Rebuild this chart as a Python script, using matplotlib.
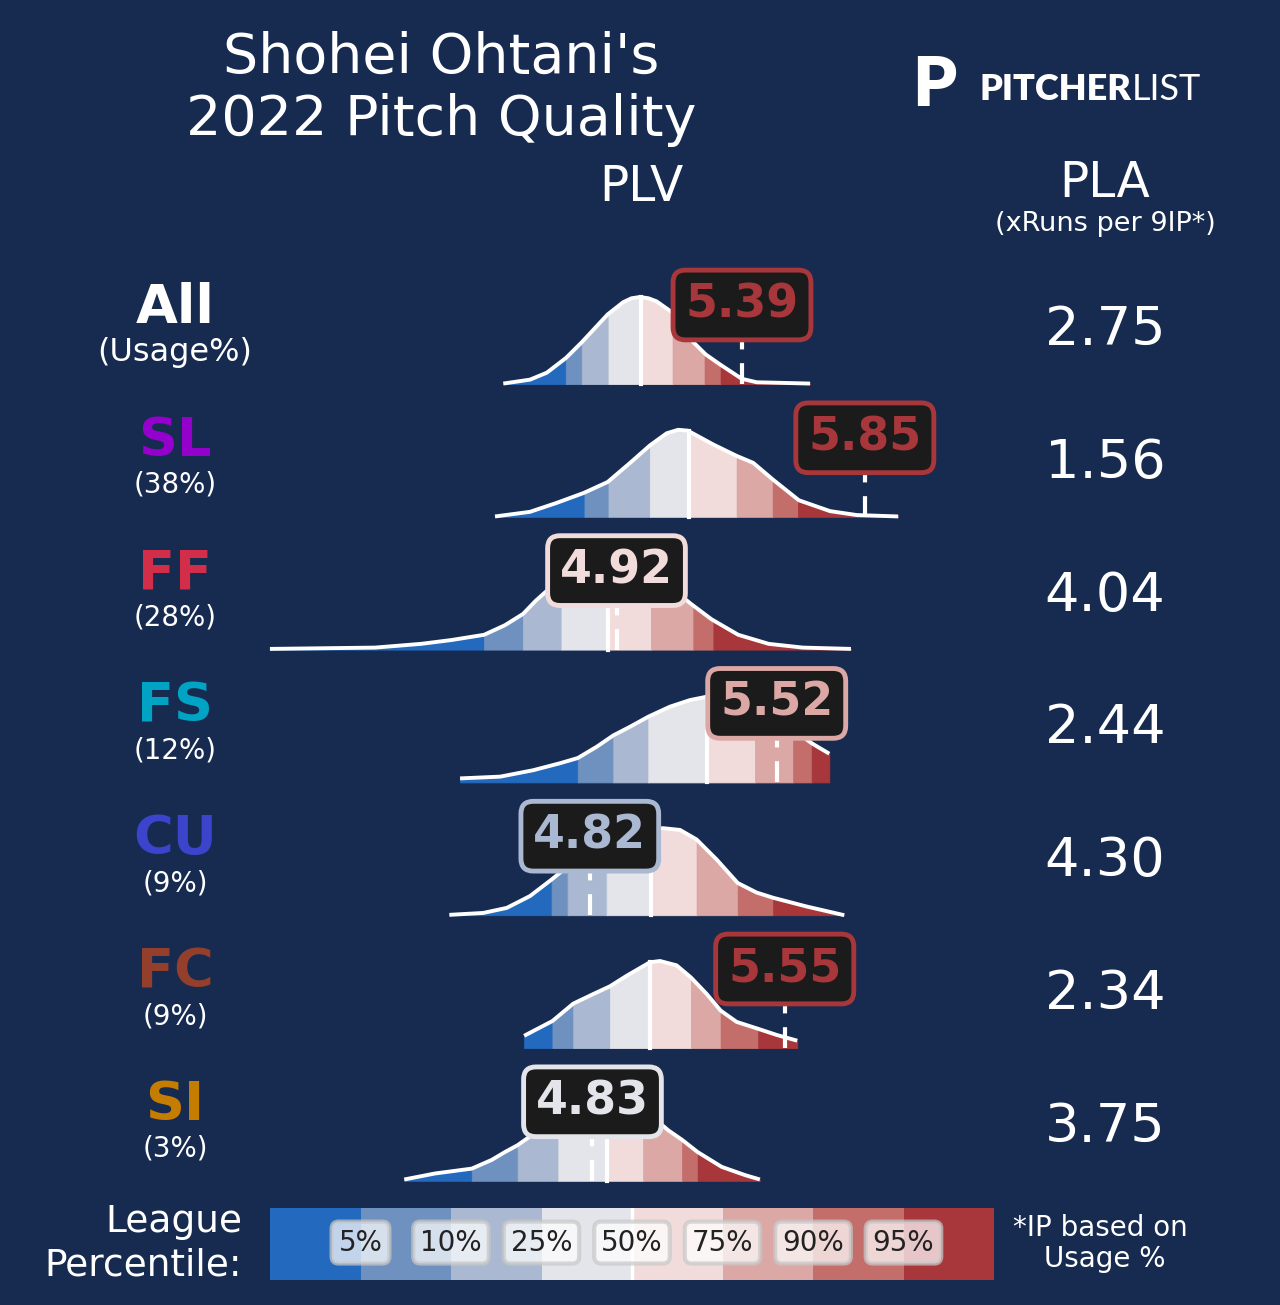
import numpy as np
import matplotlib.pyplot as plt

bg = '#172a4f'
band_colors = ['#2369bd', '#6e91c0', '#aab9d1', '#e4e5ea',
               '#f2dcdb', '#dba8a5', '#c46e6b', '#a8373b']
pct_labels = ['5%', '10%', '25%', '50%', '75%', '90%', '95%']

pitches = ['All', 'SL', 'FF', 'FS', 'CU', 'FC', 'SI']
pitch_colors = ['white', '#9400cc', '#d22d49', '#00a3c4', '#3d44cc', '#933f2c', '#c47d00']
usage = ['(Usage%)', '(38%)', '(28%)', '(12%)', '(9%)', '(9%)', '(3%)']
plv = [5.39, 5.85, 4.92, 5.52, 4.82, 5.55, 4.83]
pla = [2.75, 1.56, 4.04, 2.44, 4.30, 2.34, 3.75]

# league percentile cut points (5, 10, 25, 50, 75, 90, 95)
pct_all = [4.73, 4.79, 4.89, 5.01, 5.13, 5.25, 5.31]
pct_sl = [4.80, 4.89, 5.045, 5.19, 5.37, 5.505, 5.60]
pct_ff = [4.424, 4.57, 4.714, 4.889, 5.049, 5.208, 5.283]
pct_fs = [4.775, 4.908, 5.039, 5.258, 5.439, 5.582, 5.651]
pct_cu = [4.677, 4.737, 4.883, 5.049, 5.22, 5.374, 5.507]
pct_fc = [4.68, 4.758, 4.896, 5.045, 5.199, 5.31, 5.451]
pct_si = [4.378, 4.55, 4.702, 4.886, 5.02, 5.166, 5.224]

# league PLV density curves: x (PLV) and height relative to the peak
x_all = [4.496, 4.596, 4.659, 4.731, 4.79, 4.887, 4.945, 4.976, 5.008, 5.04, 5.07, 5.13,
         5.208, 5.254, 5.31, 5.389, 5.445, 5.645]
h_all = [0.005, 0.05, 0.13, 0.30, 0.48, 0.80, 0.94, 0.985, 1.0, 0.985, 0.95, 0.82,
         0.48, 0.34, 0.22, 0.06, 0.02, 0.005]
x_sl = [4.465, 4.596, 4.696, 4.798, 4.887, 4.971, 5.045, 5.108, 5.151, 5.187,
        5.283, 5.37, 5.432, 5.505, 5.603, 5.72, 5.82, 5.975]
h_sl = [0.004, 0.057, 0.16, 0.275, 0.40, 0.62, 0.82, 0.96, 1.0, 0.99,
        0.83, 0.70, 0.62, 0.43, 0.19, 0.065, 0.02, 0.004]
x_ff = [3.622, 4.016, 4.188, 4.302, 4.424, 4.502, 4.57, 4.617, 4.675, 4.765,
        4.858, 4.933, 5.027, 5.113, 5.197, 5.275, 5.376, 5.49, 5.618, 5.798]
h_ff = [0.008, 0.023, 0.066, 0.11, 0.17, 0.28, 0.41, 0.56, 0.72, 0.90,
        0.99, 1.0, 0.92, 0.74, 0.53, 0.35, 0.17, 0.066, 0.023, 0.008]
x_fs = [4.334, 4.484, 4.608, 4.708, 4.775, 4.846, 4.908, 4.971, 5.039, 5.12,
        5.195, 5.258, 5.345, 5.439, 5.532, 5.607, 5.651, 5.717]
h_fs = [0.046, 0.066, 0.14, 0.22, 0.28, 0.41, 0.54, 0.64, 0.755, 0.87,
        0.946, 0.985, 1.0, 0.92, 0.74, 0.55, 0.45, 0.33]
x_cu = [4.294, 4.421, 4.509, 4.596, 4.677, 4.765, 4.858, 4.952, 5.045, 5.095,
        5.158, 5.22, 5.295, 5.374, 5.445, 5.507, 5.632, 5.773]
h_cu = [0.004, 0.026, 0.084, 0.22, 0.41, 0.63, 0.80, 0.92, 0.99, 1.0,
        0.98, 0.87, 0.64, 0.37, 0.26, 0.20, 0.10, 0.0]
x_fc = [4.574, 4.68, 4.758, 4.833, 4.896, 4.958, 5.045, 5.083, 5.145, 5.199,
        5.258, 5.31, 5.37, 5.451, 5.52, 5.597]
h_fc = [0.14, 0.31, 0.51, 0.62, 0.71, 0.83, 0.985, 1.0, 0.95, 0.81,
        0.62, 0.43, 0.30, 0.22, 0.15, 0.084]
x_si = [4.125, 4.24, 4.378, 4.4525, 4.502, 4.55, 4.596, 4.671, 4.765, 4.858,
        4.952, 5.038, 5.114, 5.166, 5.224, 5.314, 5.401, 5.457]
h_si = [0.015, 0.084, 0.14, 0.24, 0.33, 0.41, 0.51, 0.78, 0.92, 1.0,
        0.965, 0.78, 0.58, 0.47, 0.33, 0.16, 0.066, 0.015]

curves_x = [x_all, x_sl, x_ff, x_fs, x_cu, x_fc, x_si]
curves_h = [h_all, h_sl, h_ff, h_fs, h_cu, h_fc, h_si]
cuts = [pct_all, pct_sl, pct_ff, pct_fs, pct_cu, pct_fc, pct_si]

W, H = 1280, 1305
fig = plt.figure(figsize=(W / 100, H / 100), dpi=100, facecolor=bg)

# pixel axes for text
tx = fig.add_axes([0, 0, 1, 1])
tx.set_xlim(0, W)
tx.set_ylim(H, 0)
tx.axis('off')

# PLV axes for the ridges
ax = fig.add_axes([0, 0, 1, 1])
ax.set_xlim(2.611, 7.405)
ax.set_ylim(H, 0)
ax.axis('off')

row0, row_step, peak = 384, 132.8, 87

for i in range(len(pitches)):
    base = row0 + i * row_step
    x = np.array(curves_x[i])
    h = np.array(curves_h[i])
    c = cuts[i]
    edges = [x[0]] + list(c) + [x[-1]]
    for k in range(8):
        lo, hi = edges[k], edges[k + 1]
        xs = np.concatenate([[lo], x[(x > lo) & (x < hi)], [hi]])
        ys = np.interp(xs, x, h)
        ax.fill_between(xs, base, base - ys * peak, facecolor=band_colors[k],
                        edgecolor=band_colors[k], lw=0.6, zorder=2)
    ax.plot(x, base - h * peak, color='white', lw=2.8, zorder=3,
            solid_joinstyle='round', solid_capstyle='butt')
    med_h = np.interp(c[3], x, h)
    ax.plot([c[3], c[3]], [base, base - med_h * peak], color='white', lw=3, zorder=3)

    # player value
    v = plv[i]
    bc = band_colors[int(np.searchsorted(c, v))]
    ax.plot([v, v], [base, base - 79], color='white', lw=3, ls=(0, (5, 3.3)), zorder=4)
    ax.text(v, base - 79, f'{v:.2f}', ha='center', va='center', fontsize=33,
            fontweight='bold', color=bc, zorder=6,
            bbox=dict(boxstyle='round,pad=0.27', fc='#1b1b1b', ec=bc, lw=3.5))

    # left labels
    tx.text(175, base - 76, pitches[i], ha='center', va='center', fontsize=39,
            fontweight='bold', color=pitch_colors[i])
    tx.text(175, base - 32, usage[i], ha='center', va='center',
            fontsize=23 if i == 0 else 20, color='white')
    # PLA
    tx.text(1105, base - 54, f'{pla[i]:.2f}', ha='center', va='center',
            fontsize=39, color='white')

# title and headers
tx.text(441, 58, "Shohei Ohtani's", ha='center', va='center', fontsize=40, color='white')
tx.text(441, 120, '2022 Pitch Quality', ha='center', va='center', fontsize=40, color='white')
tx.text(641, 187, 'PLV', ha='center', va='center', fontsize=35, color='white')
tx.text(1105, 183, 'PLA', ha='center', va='center', fontsize=35, color='white')
tx.text(1105, 224, '(xRuns per 9IP*)', ha='center', va='center', fontsize=19.5, color='white')

# logo
tx.text(934, 86, 'P', ha='center', va='center', fontsize=50, fontweight='heavy',
        color='white', family='Lato')
t1 = tx.text(980, 89, 'PITCHER', ha='left', va='center', fontsize=26,
             fontweight='heavy', color='white', family='Lato')
tx.annotate('LIST', xy=(1.0, 0.5), xycoords=t1, ha='left', va='center',
            fontsize=26, fontweight='normal', color='white', family='Lato')

# legend bar
tx.text(242, 1222, 'League', ha='right', va='center', fontsize=27, color='white')
tx.text(242, 1265, 'Percentile:', ha='right', va='center', fontsize=27, color='white')
tx.text(1100, 1228, '*IP based on', ha='center', va='center', fontsize=20, color='white')
tx.text(1105, 1259, 'Usage %', ha='center', va='center', fontsize=20, color='white')

cb = fig.add_axes([270 / W, (H - 1280) / H, 724 / W, 72 / H])
cb.bar(range(8), 1, width=1.0, color=band_colors, lw=0)
cb.axvline(3.5, color='white', lw=2.5)
cb.set_xlim(-0.5, 7.5)
cb.set_ylim(0, 1)
cb.axis('off')
for k, lab in enumerate(pct_labels):
    cb.text(k + 0.5, 0.52, lab, ha='center', va='center', fontsize=20, color='#222222',
            bbox=dict(boxstyle='round,pad=0.25', fc='white', alpha=0.72,
                      ec='#c8c8c8', lw=3))

fig.savefig('out.png', dpi=100, facecolor=bg)
